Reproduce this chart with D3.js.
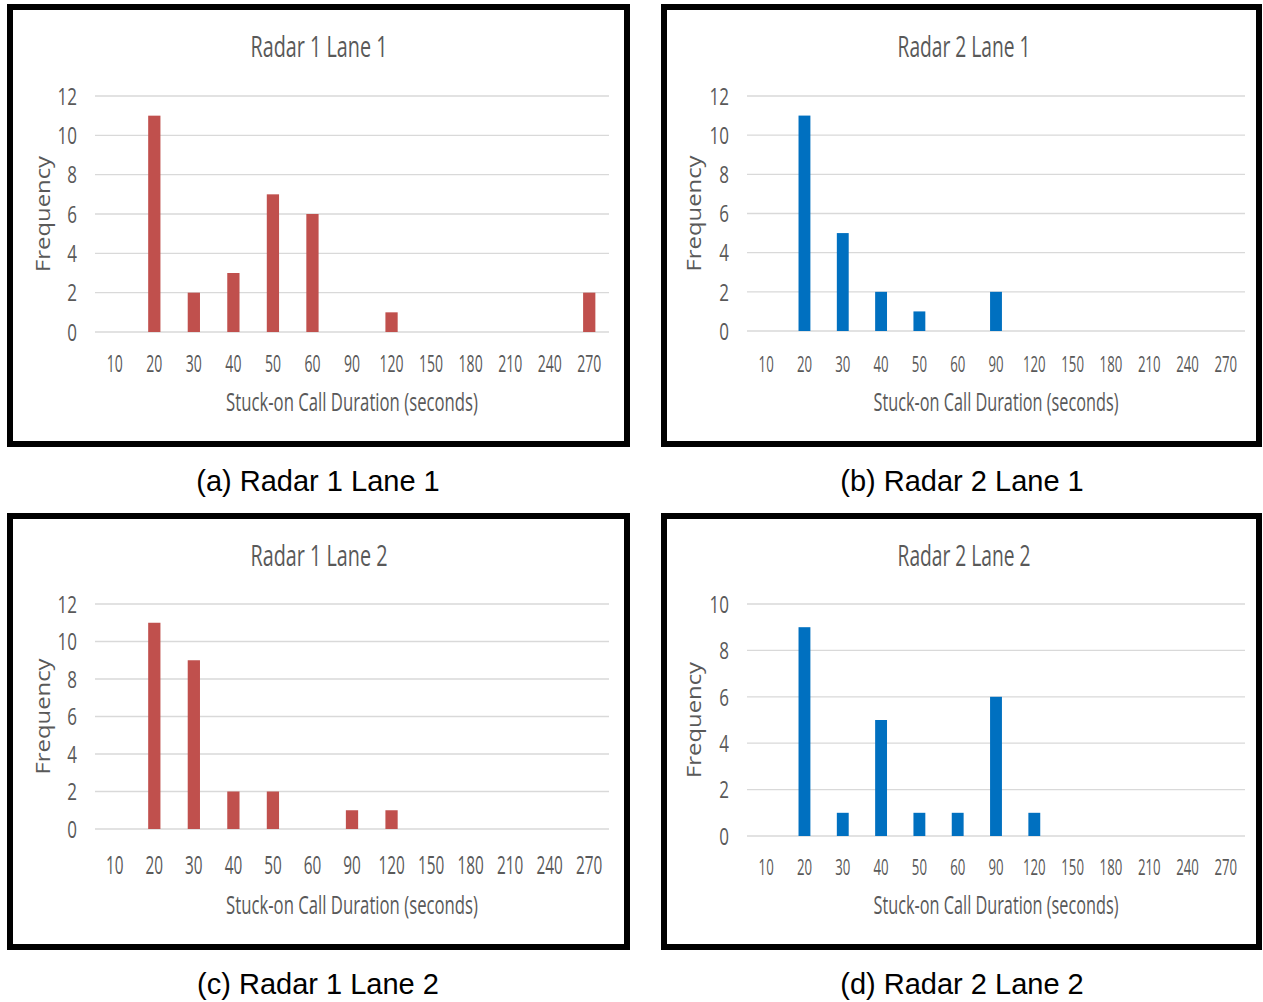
<!DOCTYPE html>
<html><head><meta charset="utf-8">
<script src="https://cdn.jsdelivr.net/npm/d3@7"></script>
<style>
body{margin:0;background:#fff;}
svg{display:block;}
.cond{font-family:"Open Sans",sans-serif;font-weight:400;fill:#595959;}
</style></head><body>
<svg id="c" width="1263" height="1002"></svg>
<script>
const categories = ["10","20","30","40","50","60","90","120","150","180","210","240","270"];
const radar1Lane1 = [0,11,2,3,7,6,0,1,0,0,0,0,2];
const radar2Lane1 = [0,11,5,2,1,0,2,0,0,0,0,0,0];
const radar1Lane2 = [0,11,9,2,2,0,1,1,0,0,0,0,0];
const radar2Lane2 = [0,9,1,5,1,1,6,1,0,0,0,0,0];
const ticks12 = [0,2,4,6,8,10,12];
const ticks10 = [0,2,4,6,8,10];
const chartTitles = ["Radar 1 Lane 1","Radar 2 Lane 1","Radar 1 Lane 2","Radar 2 Lane 2"];
const captions = ["(a) Radar 1 Lane 1","(b) Radar 2 Lane 1","(c) Radar 1 Lane 2","(d) Radar 2 Lane 2"];
const xTitle = "Stuck-on Call Duration (seconds)";
const yTitle = "Frequency";

const RED = "#C0504D", BLUE = "#0070C0";
const svg = d3.select("#c");

// horizontal squeeze via transform (keeps anchor point fixed)
function squeezeBy(sel, f){
  sel.each(function(){
    const x0 = +(this.getAttribute("x") || 0);
    this.setAttribute("x", x0 / f);
    this.setAttribute("transform", `scale(${f},1)`);
  });
}
function placeSqueezed(text, x, y, targetW){
  const w = text.node().getComputedTextLength();
  const f = targetW / w;
  text.attr("transform", `translate(${x},${y}) scale(${f},1)`);
}

const panels = [
  {values:radar1Lane1, ticks:ticks12, color:RED, title:chartTitles[0], caption:captions[0],
   box:[7,4,630,447], plot:[95,609,96,332], titleY:57, titleX:319, titleW:137, xLabY:372, xTitleY:411, xTitleW:252, xFs:23, xF:0.61, capY:491, capX:318, yTitleX:50},
  {values:radar2Lane1, ticks:ticks12, color:BLUE, title:chartTitles[1], caption:captions[1],
   box:[661,4,1262,447], plot:[747,1245,96,331], titleY:57, titleX:964, titleW:133, xLabY:372, xTitleY:411, xTitleW:245, xFs:22, xF:0.6, capY:491, capX:962, yTitleX:701},
  {values:radar1Lane2, ticks:ticks12, color:RED, title:chartTitles[2], caption:captions[2],
   box:[7,513,630,950], plot:[95,609,604,829], titleY:566, titleX:319, titleW:137, xLabY:874, xTitleY:914, xTitleW:252, xFs:26, xF:0.59, capY:994, capX:318, yTitleX:50},
  {values:radar2Lane2, ticks:ticks10, color:BLUE, title:chartTitles[3], caption:captions[3],
   box:[661,513,1262,950], plot:[747,1245,604,836], titleY:566, titleX:964, titleW:133, xLabY:875, xTitleY:914, xTitleW:245, xFs:22, xF:0.6, capY:994, capX:962, yTitleX:701}
];

panels.forEach(p => {
  const [bx0,by0,bx1,by1] = p.box;
  svg.append("rect").attr("x",bx0+3).attr("y",by0+3).attr("width",bx1-bx0-6).attr("height",by1-by0-6)
    .attr("fill","#fff").attr("stroke","#000").attr("stroke-width",6);
  const [l,r,t,b] = p.plot;
  const x = d3.scaleBand().domain(categories).range([l,r]).paddingInner(0.69).paddingOuter(0.345);
  const y = d3.scaleLinear().domain([0,d3.max(p.ticks)]).range([b,t]);
  const g = svg.append("g");
  g.selectAll("line.grid").data(p.ticks).join("line")
    .attr("x1",l).attr("x2",r).attr("y1",d=>y(d)).attr("y2",d=>y(d))
    .attr("stroke","#d9d9d9").attr("stroke-width",1.3);
  const yAxis = d3.axisLeft(y).tickValues(p.ticks).tickSize(0).tickPadding(18);
  const ya = svg.append("g").attr("transform",`translate(${l},0)`).call(yAxis);
  ya.select(".domain").remove();
  ya.selectAll("text").attr("class","cond").style("font-size","23px").attr("dy","0.36em");
  squeezeBy(ya.selectAll("text"), 0.74);
  const xAxis = d3.axisBottom(x).tickSize(0).tickPadding(0);
  const xa = svg.append("g").attr("transform",`translate(0,${p.xLabY})`).call(xAxis);
  xa.select(".domain").remove();
  xa.selectAll("text").attr("class","cond").style("font-size",p.xFs+"px").attr("dy","0");
  squeezeBy(xa.selectAll("text"), p.xF);
  g.selectAll("rect.bar").data(categories.map((c,i)=>({c,v:p.values[i]})).filter(d=>d.v>0)).join("rect")
    .attr("x",d=>x(d.c)).attr("width",x.bandwidth())
    .attr("y",d=>y(d.v)).attr("height",d=>y(0)-y(d.v)).attr("fill",p.color);
  const tt = svg.append("text").attr("class","cond").attr("text-anchor","middle")
    .style("font-size","29px").text(p.title);
  placeSqueezed(tt, p.titleX, p.titleY, p.titleW);
  const xt = svg.append("text").attr("class","cond").attr("text-anchor","middle")
    .style("font-size","26px").text(xTitle);
  placeSqueezed(xt, (l+r)/2, p.xTitleY, p.xTitleW);
  svg.append("text").attr("transform",`translate(${p.yTitleX},${(t+b)/2}) rotate(-90)`)
    .attr("text-anchor","middle").style("font-family","'Open Sans',sans-serif").style("font-size","20px")
    .attr("textLength",116).attr("lengthAdjust","spacingAndGlyphs")
    .attr("fill","#595959").text(yTitle);
  svg.append("text").attr("x",p.capX).attr("y",p.capY).attr("text-anchor","middle")
    .style("font-family","'Liberation Sans',Arial,sans-serif").style("font-size","29px").attr("fill","#000")
    .text(p.caption);
});
</script></body></html>
